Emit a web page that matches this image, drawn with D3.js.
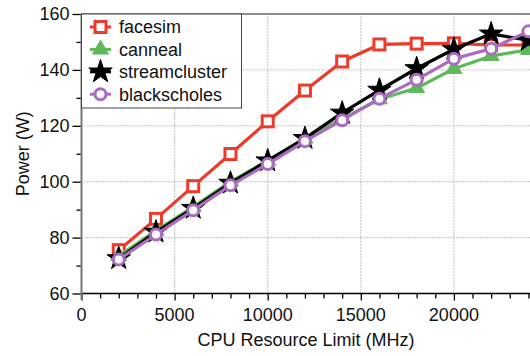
<!DOCTYPE html>
<html>
<head>
<meta charset="utf-8">
<script src="https://cdn.jsdelivr.net/npm/d3@7"></script>
<style>
  body { margin: 0; background: #fff; }
  text { font-family: "Liberation Sans", Arial, sans-serif; fill: #111; }
</style>
</head>
<body>
<div id="chart"></div>
<script>
// Data
const cpuLimit = [2000, 4000, 6000, 8000, 10000, 12000, 14000, 16000, 18000, 20000, 22000, 24000];
const facesim = [75.5, 86.7, 98.4, 109.9, 121.6, 132.6, 143.0, 149.1, 149.4, 149.5, 148.9, 148.9];
const canneal = [73.5, 82.5, 91.0, 100.0, 107.5, 115.5, 122.5, 129.5, 133.5, 140.4, 145.0, 147.2];
const streamcluster = [72.5, 82.0, 90.5, 99.5, 107.5, 115.5, 124.6, 132.8, 140.5, 147.4, 152.9, 150.6];
const blackscholes = [72.2, 81.1, 89.8, 98.7, 106.3, 114.5, 122.0, 129.7, 136.5, 144.0, 147.6, 153.8];
const xTicks = [0, 5000, 10000, 15000, 20000];
const yTicks = [60, 80, 100, 120, 140, 160];

const series = [
  { name: "facesim", values: facesim, color: "#ec3a2b", marker: "square" },
  { name: "canneal", values: canneal, color: "#5fb85a", marker: "triangle" },
  { name: "streamcluster", values: streamcluster, color: "#000000", marker: "star" },
  { name: "blackscholes", values: blackscholes, color: "#a96cc0", marker: "circle" }
];

const width = 530, height = 356;
const svg = d3.select("#chart").append("svg")
  .attr("width", width).attr("height", height);

const x = d3.scaleLinear().domain([0, 25000]).range([81.5, 547]);
const y = d3.scaleLinear().domain([60, 160]).range([293.5, 14]);

// grid
svg.append("g").selectAll("line")
  .data(xTicks.filter(d => d > 0))
  .join("line")
  .attr("x1", d => x(d)).attr("x2", d => x(d))
  .attr("y1", y(60)).attr("y2", y(160))
  .attr("stroke", "#888").attr("stroke-width", 1).attr("stroke-dasharray", "1,2");
svg.append("g").selectAll("line")
  .data(yTicks.filter(d => d > 60 && d < 160))
  .join("line")
  .attr("x1", x(0)).attr("x2", width)
  .attr("y1", d => y(d)).attr("y2", d => y(d))
  .attr("stroke", "#888").attr("stroke-width", 1).attr("stroke-dasharray", "1,2");

// top frame
svg.append("line")
  .attr("x1", x(0)).attr("x2", width).attr("y1", y(160)).attr("y2", y(160))
  .attr("stroke", "#666").attr("stroke-width", 1.5);

// x axis
const xAxis = svg.append("g").attr("transform", `translate(0,${y(60)})`);
xAxis.call(d3.axisBottom(x).tickValues(d3.range(0, 25001, 1000)).tickSize(5).tickFormat(""));
xAxis.call(g => g.select(".domain").remove());
xAxis.append("line").attr("x1", x(0)).attr("x2", width).attr("stroke", "#000").attr("stroke-width", 1.5);
xAxis.selectAll(".tick line").attr("stroke", "#000").attr("stroke-width", 1.3)
  .attr("y2", d => d % 5000 === 0 ? 7 : 5);
xAxis.selectAll(".xlab").data(xTicks).join("text")
  .attr("x", d => x(d)).attr("y", 27)
  .attr("text-anchor", "middle").attr("font-size", 18)
  .text(d => d);

// y axis
const yAxis = svg.append("g").attr("transform", `translate(${x(0)},0)`);
yAxis.call(d3.axisLeft(y).tickValues(d3.range(60, 161, 10)).tickSize(5).tickFormat(""));
yAxis.call(g => g.select(".domain").remove());
yAxis.append("line").attr("y1", y(160)).attr("y2", y(60) + 6)
  .attr("stroke", "#777").attr("stroke-width", 2);
yAxis.selectAll(".tick line").attr("stroke", "#000").attr("stroke-width", 1.3)
  .attr("x2", d => d % 20 === 0 ? -9 : -5);
yAxis.selectAll(".ylab").data(yTicks).join("text")
  .attr("x", -12).attr("y", d => y(d)).attr("dy", "0.36em")
  .attr("text-anchor", "end").attr("font-size", 18)
  .text(d => d);

// axis titles
svg.append("text")
  .attr("x", 306).attr("y", 346)
  .attr("text-anchor", "middle").attr("font-size", 18)
  .text("CPU Resource Limit (MHz)");
svg.append("text")
  .attr("transform", `translate(29,${(y(60) + y(160)) / 2}) rotate(-90)`)
  .attr("text-anchor", "middle").attr("font-size", 18)
  .text("Power (W)");

// marker drawing
function drawMarker(g, type, color) {
  if (type === "square") {
    g.append("rect").attr("x", -5.5).attr("y", -5.5).attr("width", 11).attr("height", 11)
      .attr("fill", "#fff").attr("stroke", color).attr("stroke-width", 3);
  } else if (type === "circle") {
    g.append("circle").attr("r", 5.5)
      .attr("fill", "#fff").attr("stroke", color).attr("stroke-width", 3);
  } else if (type === "triangle") {
    g.append("path").attr("d", d3.symbol(d3.symbolTriangle, 110)())
      .attr("fill", color).attr("stroke", color).attr("stroke-width", 1);
  } else if (type === "star") {
    g.append("path").attr("d", d3.symbol(d3.symbolStar, 170)())
      .attr("fill", color).attr("stroke", color).attr("stroke-width", 1);
  }
}

const line = d3.line().x(d => x(d[0])).y(d => y(d[1]));

series.forEach(s => {
  const pts = cpuLimit.map((c, i) => [c, s.values[i]]);
  const g = svg.append("g");
  g.append("path").datum(pts).attr("d", line)
    .attr("fill", "none").attr("stroke", s.color).attr("stroke-width", 3.2)
    .attr("stroke-linejoin", "round");
  pts.forEach(p => {
    const m = g.append("g").attr("transform", `translate(${x(p[0])},${y(p[1])})`);
    drawMarker(m, s.marker, s.color);
  });
});

// legend
const legend = svg.append("g");
legend.append("rect")
  .attr("x", x(0)).attr("y", y(160)).attr("width", 160).attr("height", 94)
  .attr("fill", "#fff").attr("stroke", "#444").attr("stroke-width", 1);
series.forEach((s, i) => {
  const ly = 27 + i * 22.4;
  legend.append("line").attr("x1", 90).attr("x2", 111).attr("y1", ly).attr("y2", ly)
    .attr("stroke", s.color).attr("stroke-width", 3);
  const m = legend.append("g").attr("transform", `translate(100.5,${ly})`);
  drawMarker(m, s.marker, s.color);
  legend.append("text").attr("x", 119).attr("y", ly).attr("dy", "0.36em")
    .attr("font-size", 18).text(s.name);
});
</script>
</body>
</html>
